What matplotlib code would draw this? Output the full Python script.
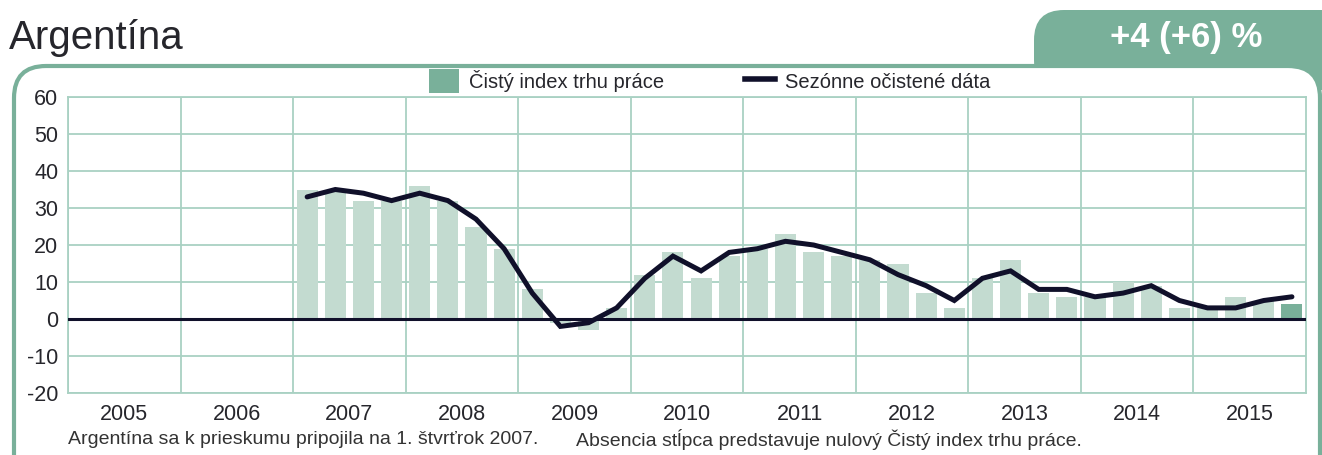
import matplotlib
matplotlib.use("Agg")
import matplotlib.pyplot as plt
from matplotlib.patches import FancyBboxPatch, Patch
from matplotlib.lines import Line2D
import numpy as np

plt.rcParams['font.family'] = ['Liberation Sans', 'DejaVu Sans']
plt.rcParams['axes.unicode_minus'] = False

# data: quarterly values 2007 Q1 .. 2015 Q4
years = list(range(2005, 2016))
start_year = 2007
bars = [35, 35, 32, 32,
        36, 32, 25, 19,
        8, -1, -3, 3,
        12, 18, 11, 17,
        19, 23, 18, 17,
        16, 15, 7, 3,
        11, 16, 7, 6,
        6, 10, 9, 3,
        3, 6, 5, 4]
seasonal = [33, 35, 34, 32,
            34, 32, 27, 19,
            7, -2, -1, 3,
            11, 17, 13, 18,
            19, 21, 20, 18,
            16, 12, 9, 5,
            11, 13, 8, 8,
            6, 7, 9, 5,
            3, 3, 5, 6]
yticks = [60, 50, 40, 30, 20, 10, 0, -10, -20]

title = "Argentína"
badge = "+4 (+6) %"
label_bar = "Čistý index trhu práce"
label_line = "Sezónne očistené dáta"
note1 = "Argentína sa k prieskumu pripojila na 1. štvrťrok 2007."
note2 = "Absencia stĺpca predstavuje nulový Čistý index trhu práce."

GREEN = "#79B09A"
BAR = "#C3DBD0"
GRID = "#A9D1C3"
NAVY = "#10102A"
TXT = "#26262c"

W, H = 1322, 455
fig = plt.figure(figsize=(W / 100, H / 100), dpi=100)

# background: badge tab and rounded frame, in pixel units
bg = fig.add_axes([0, 0, 1, 1])
bg.set_xlim(0, W)
bg.set_ylim(H, 0)
bg.axis("off")
bg.set_zorder(0)
bg.add_patch(FancyBboxPatch((1034, 10), 400, 80, boxstyle="round,pad=0,rounding_size=30",
                            fc=GREEN, ec="none"))
bg.add_patch(FancyBboxPatch((14, 66), 1306, 450, boxstyle="round,pad=0,rounding_size=32",
                            fc="white", ec=GREEN, lw=3))
bg.text(9, 49, title, fontsize=29, color=TXT, ha="left", va="baseline")
bg.text(1186, 37, badge, fontsize=25, color="white", fontweight="bold",
        ha="center", va="center")
bg.text(68, 440, note1, fontsize=14, color="#333", ha="left", va="center")
bg.text(576, 440, note2, fontsize=14, color="#333", ha="left", va="center")

# main chart
ax = fig.add_axes([68 / W, 1 - 393 / H, (1306 - 68) / W, (393 - 97) / H])
ax.set_zorder(1)
ax.patch.set_alpha(0)

x = np.array([start_year + (i + 0.5) / 4 for i in range(len(bars))])
colors = [BAR] * (len(bars) - 1) + [GREEN]
ax.bar(x, bars, width=0.75 / 4, color=colors, zorder=2)
ax.axhline(0, color=NAVY, lw=2.2, zorder=3)
ax.plot(x, seasonal, color=NAVY, lw=3.6, solid_joinstyle="miter",
        solid_capstyle="round", zorder=4)

ax.set_xlim(years[0], years[-1] + 1)
ax.set_ylim(-20, 60)
ax.set_yticks(yticks)
ax.set_xticks([y + 0.5 for y in years])
ax.set_xticklabels([str(y) for y in years])
ax.set_xticks(years, minor=True)
ax.tick_params(axis="both", which="both", length=0, labelsize=15.5, colors=TXT)
ax.tick_params(axis="x", pad=8)
ax.tick_params(axis="y", pad=7)
ax.grid(True, which="minor", axis="x", color=GRID, lw=1.3, zorder=1)
ax.grid(True, which="major", axis="y", color=GRID, lw=1.3, zorder=1)
for s in ax.spines.values():
    s.set_color(GRID)
    s.set_linewidth(1.3)

handles = [Patch(fc=GREEN, ec="none"), Line2D([0], [0], color=NAVY, lw=4)]
fig.legend(handles, [label_bar, label_line], ncol=2, frameon=False,
           loc="center", bbox_to_anchor=(710 / W, 1 - 81 / H), fontsize=14.5,
           handlelength=1.5, handleheight=1.4, columnspacing=4.0, handletextpad=0.5,
           labelcolor=TXT)

fig.savefig("out.png", dpi=100)
